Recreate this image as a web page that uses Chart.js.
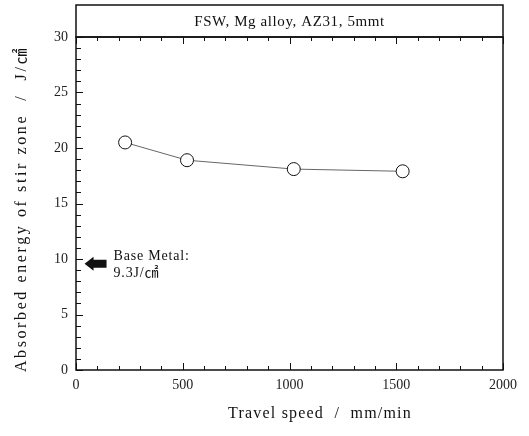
<!DOCTYPE html>
<html>
<head>
<meta charset="utf-8">
<script src="https://cdn.jsdelivr.net/npm/chart.js@4"></script>
<style>
  html, body { margin: 0; padding: 0; background: #fff; }
  #wrap { width: 529px; height: 436px; }
</style>
</head>
<body>
<div id="wrap"><canvas id="chart" width="529" height="436"></canvas></div>
<script>
var speeds = [230, 520, 1020, 1530];
var energy = [20.5, 18.9, 18.1, 17.9];
var baseMetal = 9.3;

var xTicks = [0, 500, 1000, 1500, 2000];
var yTicks = [0, 5, 10, 15, 20, 25, 30];

var titleText = 'FSW, Mg alloy, AZ31, 5mmt';
var xTitle = 'Travel speed  /  mm/min';
var yTitle = 'Absorbed energy of stir zone  /  J/\u33A0';

var SERIF = "'Liberation Serif', 'DejaVu Serif', 'Noto Sans CJK JP', serif";

// frame, inward ticks, title box, arrow and axis titles
const decor = {
  id: 'decor',
  afterDraw(chart) {
    const ctx = chart.ctx;
    const a = chart.chartArea;
    const xs = chart.scales.x;
    const ys = chart.scales.y;
    ctx.save();
    ctx.strokeStyle = '#111';
    ctx.lineWidth = 1;

    // ticks on x (bottom and top)
    for (let v = 0; v <= 2000; v += 100) {
      const px = Math.round(xs.getPixelForValue(v)) + 0.5;
      const len = v % 500 === 0 ? 7 : 4;
      ctx.beginPath();
      ctx.moveTo(px, a.bottom); ctx.lineTo(px, a.bottom - len);
      ctx.moveTo(px, a.top); ctx.lineTo(px, a.top + len);
      ctx.stroke();
    }
    // ticks on y (left)
    for (let v = 0; v <= 30; v += 1) {
      const py = Math.round(ys.getPixelForValue(v)) + 0.5;
      const len = v % 5 === 0 ? 7 : 5;
      ctx.beginPath();
      ctx.moveTo(a.left, py); ctx.lineTo(a.left + len, py);
      ctx.stroke();
    }

    // frame
    ctx.lineWidth = 1.5;
    ctx.strokeRect(a.left, a.top, a.right - a.left, a.bottom - a.top);
    // title box
    ctx.strokeRect(a.left, 5, a.right - a.left, a.top - 5);

    ctx.fillStyle = '#111';
    ctx.font = '15px ' + SERIF;
    ctx.textAlign = 'center';
    ctx.textBaseline = 'middle';
    ctx.letterSpacing = '0.6px';
    ctx.fillText(titleText, (a.left + a.right) / 2, 22);

    // base metal arrow
    const ay = ys.getPixelForValue(baseMetal) - 3;
    const tip = xs.getPixelForValue(40);
    ctx.beginPath();
    ctx.moveTo(tip, ay);
    ctx.lineTo(tip + 9, ay - 7);
    ctx.lineTo(tip + 9, ay - 4);
    ctx.lineTo(tip + 22, ay - 4);
    ctx.lineTo(tip + 22, ay + 4);
    ctx.lineTo(tip + 9, ay + 4);
    ctx.lineTo(tip + 9, ay + 7);
    ctx.closePath();
    ctx.fill();

    ctx.textAlign = 'left';
    ctx.font = '14px ' + SERIF;
    ctx.letterSpacing = '0.8px';
    ctx.fillText('Base Metal:', tip + 29, ay - 7);
    ctx.fillText('9.3J/\u33A0', tip + 29, ay + 10);

    // axis titles
    ctx.font = '16px ' + SERIF;
    ctx.letterSpacing = '1.2px';
    ctx.textAlign = 'center';
    ctx.fillText(xTitle, 320, 414);
    ctx.letterSpacing = '2.6px';
    ctx.translate(22, 209);
    ctx.rotate(-Math.PI / 2);
    ctx.fillText(yTitle, 0, 0);
    ctx.restore();
  }
};

const config = {
  type: 'scatter',
  data: {
    datasets: [{
      data: speeds.map((s, i) => ({ x: s, y: energy[i] })),
      showLine: true,
      borderColor: '#666',
      borderWidth: 1,
      pointRadius: 6.5,
      pointBackgroundColor: '#fff',
      pointBorderColor: '#111',
      pointBorderWidth: 1
    }]
  },
  options: {
    responsive: false,
    animation: false,
    layout: { padding: { top: 37, right: 26, left: 0, bottom: 0 } },
    plugins: {
      legend: { display: false },
      tooltip: { enabled: false }
    },
    scales: {
      x: {
        type: 'linear',
        min: 0,
        max: 2000,
        afterFit: s => { s.height = 66; },
        afterBuildTicks: s => { s.ticks = xTicks.map(v => ({ value: v })); },
        grid: { display: false, drawTicks: false },
        border: { display: false },
        ticks: {
          padding: 7, color: '#222', font: { family: SERIF, size: 14 },
          callback: v => String(v)
        }
      },
      y: {
        type: 'linear',
        min: 0,
        max: 30,
        afterFit: s => { s.width = 76; },
        afterBuildTicks: s => { s.ticks = yTicks.map(v => ({ value: v })); },
        grid: { display: false, drawTicks: false },
        border: { display: false },
        ticks: {
          padding: 8, color: '#222', font: { family: SERIF, size: 14 },
          callback: v => String(v)
        }
      }
    }
  },
  plugins: [decor]
};

var myChart = new Chart(document.getElementById('chart'), config);
</script>
</body>
</html>
